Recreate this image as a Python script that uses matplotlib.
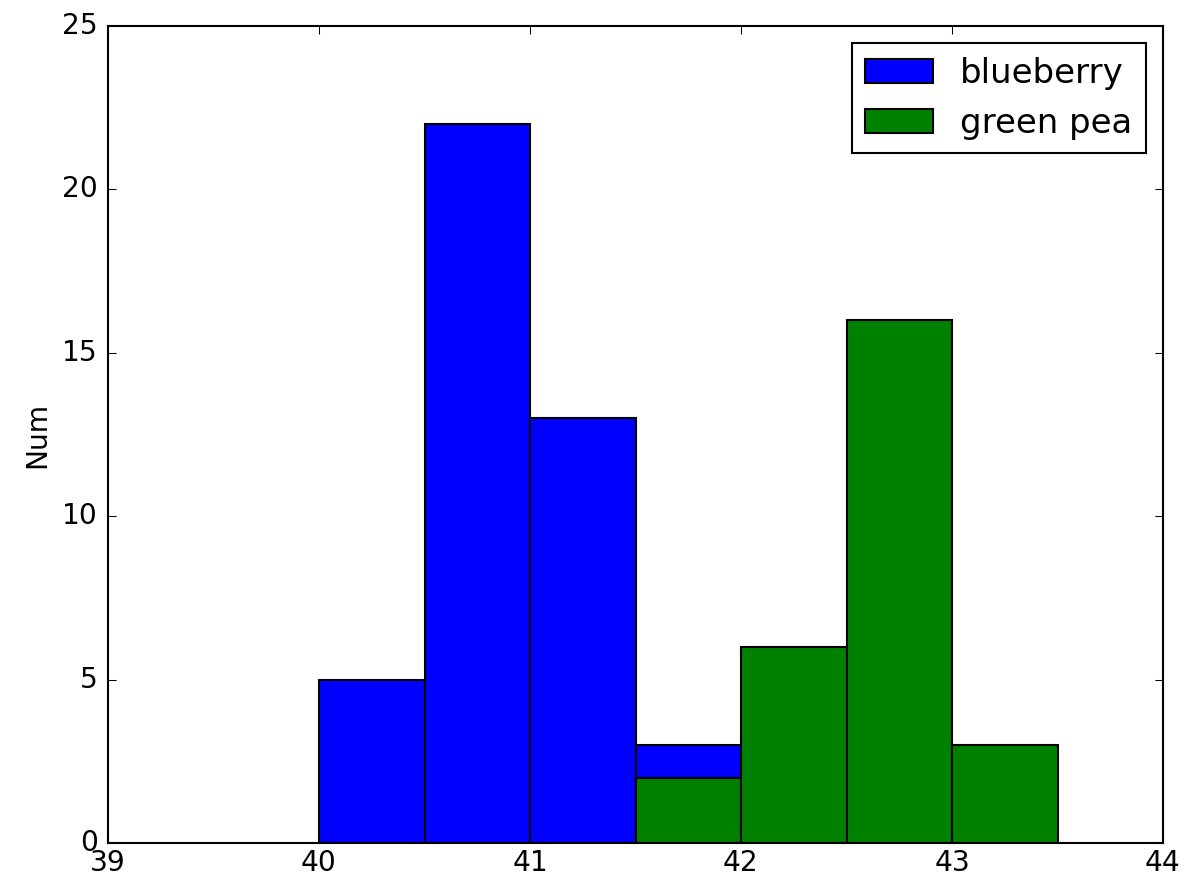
import matplotlib
matplotlib.use("Agg")
import matplotlib.pyplot as plt
import numpy as np

plt.style.use("classic")

# histogram bin edges and counts per bin
bin_edges = [40.0, 40.5, 41.0, 41.5, 42.0, 42.5, 43.0, 43.5]
blueberry_counts = [5, 22, 13, 3, 0, 0, 0]
green_pea_counts = [0, 0, 0, 2, 6, 16, 3]

edges = np.array(bin_edges)
lefts = edges[:-1]

fig = plt.figure(figsize=(1204 / 150, 877 / 150), dpi=150, facecolor="white")
ax = fig.add_axes([108 / 1204, 1 - 843 / 877, (1163 - 108) / 1204, (843 - 26) / 877])

ax.hist(lefts, bins=edges, weights=blueberry_counts, color="b", label="blueberry")
ax.hist(lefts, bins=edges, weights=green_pea_counts, color="g", label="green pea")

ax.set_xlim(39, 44)
ax.set_ylim(0, 25)
ax.tick_params(axis="x", labelsize=13.5, pad=3)
ax.tick_params(axis="y", labelsize=13.5, pad=5)
ax.set_ylabel("Num", fontsize=13.5, labelpad=5)
ax.legend(loc="upper right", fontsize=16.3)

fig.savefig("out.png", dpi=150, facecolor="white")
